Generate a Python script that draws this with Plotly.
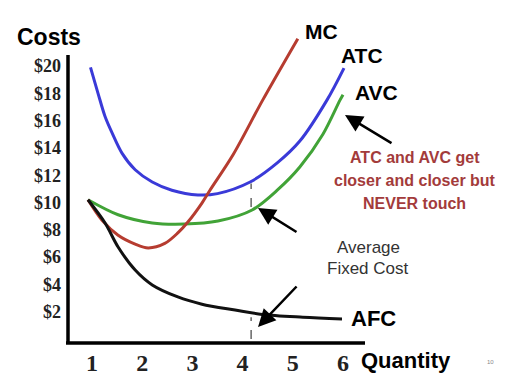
import plotly.graph_objects as go

# ---- data ----
atc_q = [0.97, 1.12, 1.26, 1.40, 1.60, 1.86, 2.2, 2.59, 3.11, 3.5, 4.15, 4.69, 5.14, 5.68, 6.02]
atc_c = [19.9, 18.0, 16.3, 15.1, 13.6, 12.4, 11.5, 10.9, 10.55, 10.65, 11.5, 12.9, 14.5, 17.5, 19.85]

avc_q = [0.92, 1.52, 2.2, 2.85, 3.51, 4.19, 4.69, 5.14, 5.6, 5.94, 6.0]
avc_c = [10.2, 9.1, 8.5, 8.42, 8.64, 9.45, 10.9, 12.6, 15.0, 17.5, 17.9]

mc_q = [0.92, 1.2, 1.52, 1.86, 2.12, 2.45, 2.71, 2.91, 3.19, 3.35, 3.81, 4.4, 5.1]
mc_c = [10.2, 8.7, 7.6, 6.95, 6.67, 7.0, 7.77, 8.57, 9.96, 10.9, 13.5, 17.5, 22.0]

afc_q = [0.92, 1.26, 1.52, 1.86, 2.2, 2.71, 3.19, 3.85, 4.39, 5.2, 5.98]
afc_c = [10.2, 8.5, 6.74, 5.05, 3.96, 3.08, 2.55, 2.12, 1.8, 1.6, 1.47]

gap_q = 4.17
gap_tc = [9.67, 11.4]     # AVC -> ATC at gap_q
gap_fc = [0.0, 1.6]       # axis -> AFC at gap_q

x_ticks = [1, 2, 3, 4, 5, 6]
y_ticks = [2, 4, 6, 8, 10, 12, 14, 16, 18, 20]
y_tick_labels = ["$" + str(v) for v in y_ticks]

# ---- layout geometry ----
W, H = 518, 378
L, R, T, B = 68, 153, 30, 35
PW, PH = W - L - R, H - T - B


def px(x, y):
    return (x - L) / PW, (H - B - y) / PH


fig = go.Figure()
line_w = 3
sm = 0.9
fig.add_trace(go.Scatter(x=atc_q, y=atc_c, mode="lines", line=dict(color="#3a3ad8", width=line_w, shape="spline", smoothing=sm), name="ATC"))
fig.add_trace(go.Scatter(x=avc_q, y=avc_c, mode="lines", line=dict(color="#41a337", width=line_w, shape="spline", smoothing=sm), name="AVC"))
fig.add_trace(go.Scatter(x=mc_q, y=mc_c, mode="lines", line=dict(color="#b63c30", width=line_w, shape="spline", smoothing=sm), name="MC"))
fig.add_trace(go.Scatter(x=afc_q, y=afc_c, mode="lines", line=dict(color="#111111", width=line_w, shape="spline", smoothing=sm), name="AFC"))
fig.add_trace(go.Scatter(x=[gap_q, gap_q], y=gap_tc, mode="lines", line=dict(color="#666666", width=1.5, dash="dash")))
fig.add_trace(go.Scatter(x=[gap_q, gap_q], y=gap_fc, mode="lines", line=dict(color="#666666", width=1.5, dash="dash")))

# axis lines
x0, y0 = px(68, 343)
x1, y1 = px(365, 55)
fig.add_shape(type="line", xref="paper", yref="paper", x0=x0, y0=y0, x1=x0, y1=y1, line=dict(color="black", width=3.5))
fig.add_shape(type="line", xref="paper", yref="paper", x0=px(66, 343)[0], y0=y0, x1=x1, y1=y0, line=dict(color="black", width=3.5))

ann = []


def txt(s, x, y, size, color="black", bold=True, family="Liberation Sans"):
    xp, yp = px(x, y)
    ann.append(dict(text=("<b>%s</b>" % s) if bold else s, x=xp, y=yp, xref="paper", yref="paper",
                    showarrow=False, xanchor="center", yanchor="middle",
                    font=dict(size=size, color=color, family=family)))


txt("Costs", 49, 37, 23)
txt("MC", 321, 31, 21)
txt("ATC", 362, 55, 21)
txt("AVC", 376, 93, 21)
red = "#a33b3b"
txt("ATC and AVC get", 415, 157, 16, red)
txt("closer and closer but", 415, 180, 16, red)
txt("NEVER touch", 415, 203, 16, red)
txt("Average", 368, 247, 17, "#333333", bold=False)
txt("Fixed Cost", 368, 268, 17, "#333333", bold=False)
txt("AFC", 373, 318, 22)
txt("Quantity", 406, 360, 22)
txt("10", 490, 362, 6, "#888888", bold=False)


def arrow(hx, hy, tx, ty):
    xp, yp = px(hx, hy)
    ann.append(dict(x=xp, y=yp, xref="paper", yref="paper", ax=tx - hx, ay=ty - hy,
                    axref="pixel", ayref="pixel", showarrow=True, arrowhead=2, arrowsize=1.4,
                    arrowwidth=2.5, arrowcolor="black", text=""))


arrow(345, 115, 393, 144)
arrow(258, 208, 298, 233)
arrow(258, 327, 298, 285)

y_lo = (339 - (H - B)) / 13.65
y_hi = (339 - T) / 13.65
x_lo = 1 - (92 - L) / 50.2
x_hi = 1 + (L + PW - 92) / 50.2

fig.update_layout(
    width=W, height=H, margin=dict(l=L, r=R, t=T, b=B, pad=0, autoexpand=False),
    plot_bgcolor="white", paper_bgcolor="white", showlegend=False,
    annotations=ann,
    xaxis=dict(range=[x_lo, x_hi], tickvals=x_ticks, ticktext=[str(v) for v in x_ticks],
               showgrid=False, zeroline=False, showline=False, ticks="", ticklabelstandoff=3,
               automargin=False,
               tickfont=dict(family="Liberation Serif", size=24, color="#222222", weight="bold")),
    yaxis=dict(range=[y_lo, y_hi], tickvals=y_ticks, ticktext=y_tick_labels,
               showgrid=False, zeroline=False, showline=False, ticks="", ticklabelstandoff=6,
               automargin=False,
               tickfont=dict(family="Liberation Serif", size=18, color="#222222", weight="bold")),
)

fig.write_html("out.html", config={"displayModeBar": False},
               post_script="document.body.style.margin='0';document.body.style.overflow='hidden';")
